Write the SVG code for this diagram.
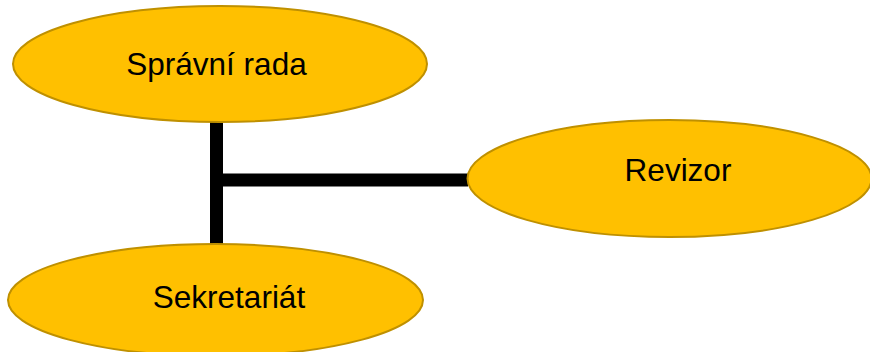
<svg xmlns="http://www.w3.org/2000/svg" width="870" height="352" viewBox="0 0 870 352">
<style>
.node{fill:#FFC000;stroke:#BF9000;stroke-width:2}
.lbl{font-family:"Liberation Sans",Arial,sans-serif;font-size:31.5px;fill:#000;text-anchor:middle}
.conn{stroke:#000;stroke-width:13;fill:none}
</style>
<rect width="870" height="352" fill="#fff"/>
<g id="connectors">
<line class="conn" x1="216.5" y1="121" x2="216.5" y2="244"/>
<line class="conn" x1="216.5" y1="180" x2="468" y2="180"/>
</g>
<g id="spravni-rada">
<ellipse class="node" cx="220" cy="64" rx="207" ry="58"/>
<text class="lbl" x="216.5" y="74.5">Správní rada</text>
</g>
<g id="revizor">
<ellipse class="node" cx="669.5" cy="178.5" rx="202" ry="58.5"/>
<text class="lbl" x="678" y="180.5">Revizor</text>
</g>
<g id="sekretariat">
<ellipse class="node" cx="215.5" cy="300" rx="207.5" ry="56"/>
<text class="lbl" x="229" y="308">Sekretariát</text>
</g>
</svg>
